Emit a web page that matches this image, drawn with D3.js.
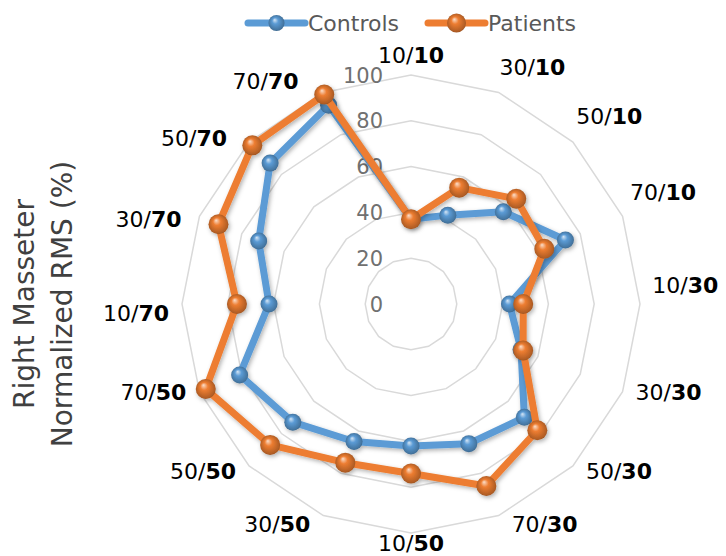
<!DOCTYPE html>
<html><head><meta charset="utf-8">
<script src="https://cdn.jsdelivr.net/npm/d3@7"></script>
<style>body{margin:0;background:#fff}svg{display:block}</style>
</head><body><svg id="c" width="726" height="556"></svg>
<script>
const categories = ["10/10","30/10","50/10","70/10","10/30","30/30","50/30","70/30","10/50","30/50","50/50","70/50","10/70","30/70","50/70","70/70"];
const controls = [37, 42, 57, 73, 43, 52, 70, 66, 62, 65, 73, 81, 62, 72, 87, 94];
const patients = [37, 55, 65, 63, 49, 53, 78, 86, 74, 75, 87, 97, 76, 91, 98, 99];
const ticks = [0, 20, 40, 60, 80, 100];
const seriesNames = ["Controls", "Patients"];
const seriesColors = ["#5B9BD5", "#ED7D31"];
const axisTitle = ["Right Masseter", "Normalized RMS (%)"];

const W = 726, H = 556, cx = 411, cy = 304, R = 229;
const font = "'DejaVu Sans', sans-serif";
const svg = d3.select("#c");
const defs = svg.append("defs");

seriesColors.forEach((c, i) => {
  const g = defs.append("radialGradient").attr("id", "ball" + i)
    .attr("cx", "50%").attr("cy", "50%").attr("r", "55%").attr("fx", "38%").attr("fy", "30%");
  g.append("stop").attr("offset", "0%").attr("stop-color", d3.interpolateRgb(c, "#fff")(0.75));
  g.append("stop").attr("offset", "35%").attr("stop-color", c);
  g.append("stop").attr("offset", "85%").attr("stop-color", d3.color(c).darker(0.8));
  g.append("stop").attr("offset", "100%").attr("stop-color", d3.color(c).darker(1.4));
});
const f = defs.append("filter").attr("id", "shadow").attr("x", "-20%").attr("y", "-20%").attr("width", "140%").attr("height", "140%");
f.append("feDropShadow").attr("dx", 1.5).attr("dy", 2).attr("stdDeviation", 2).attr("flood-color", "#000").attr("flood-opacity", 0.3);

const r = d3.scaleLinear().domain([0, 100]).range([0, R]);
const ang = d3.scaleLinear().domain([0, categories.length]).range([0, 2 * Math.PI]);

const root = svg.append("g").attr("transform", `translate(${cx},${cy})`);

// grid rings
const ringLine = d3.lineRadial().angle((d, i) => ang(i)).radius(d => r(d)).curve(d3.curveLinearClosed);
root.append("g").selectAll("path").data(ticks.filter(t => t > 0)).join("path")
  .attr("d", t => ringLine(categories.map(() => t)))
  .attr("fill", "none").attr("stroke", "#d9d9d9").attr("stroke-width", 1.5);

// tick labels
root.append("g").selectAll("text").data(ticks).join("text")
  .attr("x", -28).attr("y", t => -r(t)).attr("dy", "0.36em")
  .attr("text-anchor", "end").attr("font-family", font).attr("font-size", 21)
  .attr("fill", "#707070").text(t => t);

// series
const sLine = d3.lineRadial().angle((d, i) => ang(i)).radius(d => r(d)).curve(d3.curveLinearClosed);
[controls, patients].forEach((vals, si) => {
  const g = root.append("g").attr("filter", "url(#shadow)");
  g.append("path").attr("d", sLine(vals)).attr("fill", "none")
    .attr("stroke", seriesColors[si]).attr("stroke-width", 7).attr("stroke-linejoin", "round");
  g.selectAll("circle").data(vals).join("circle")
    .attr("cx", (d, i) => r(d) * Math.sin(ang(i)))
    .attr("cy", (d, i) => -r(d) * Math.cos(ang(i)))
    .attr("r", si === 0 ? 8.5 : 10)
    .attr("fill", `url(#ball${si})`);
});

// category labels
const labG = root.append("g");
const rot = -3 * Math.PI / 180;
categories.forEach((c, i) => {
  const [a, b] = c.split("/");
  const t = labG.append("text").attr("font-family", font).attr("font-size", 22).attr("fill", "#000")
    .attr("text-anchor", "middle").attr("dy", "0.36em");
  t.append("tspan").text(a + "/");
  t.append("tspan").attr("font-weight", "bold").text(b);
  const hw = t.node().getComputedTextLength() / 2;
  const th = ang(i), s = Math.sin(th), co = Math.cos(th);
  const vx = R * s, vy = -R * co;
  const sx = Math.abs(s) < 1e-6 ? 0 : Math.sign(s) * Math.min(1, Math.abs(s) / 0.38);
  let x = vx + sx * (hw + 13);
  let y = vy - co * 15 - 5;
  if (co > -0.01 && Math.abs(s) > 1e-6) {
    const x2 = x * Math.cos(rot) - y * Math.sin(rot);
    const y2 = x * Math.sin(rot) + y * Math.cos(rot);
    x = x2; y = y2;
  }
  t.attr("x", x).attr("y", y);
});

// axis title
const tg = svg.append("g").attr("transform", `translate(0,${cy}) rotate(-90)`);
axisTitle.forEach((line, i) => {
  tg.append("text").attr("x", 0).attr("y", 34 + i * 38).attr("text-anchor", "middle")
    .attr("font-family", font).attr("font-size", 28).attr("fill", "#404040").text(line);
});

// legend
const legX = [248, 428];
seriesNames.forEach((n, i) => {
  const g = svg.append("g").attr("transform", `translate(${legX[i]},23)`);
  g.append("line").attr("x1", 0).attr("x2", 57).attr("stroke", seriesColors[i]).attr("stroke-width", 7).attr("stroke-linecap", "round");
  g.append("circle").attr("cx", 28.5).attr("r", i === 0 ? 8 : 9.5).attr("fill", `url(#ball${i})`);
  g.append("text").attr("x", 60).attr("dy", "0.36em").attr("font-family", font).attr("font-size", 22)
    .attr("fill", "#595959").text(n);
});
</script></body></html>
